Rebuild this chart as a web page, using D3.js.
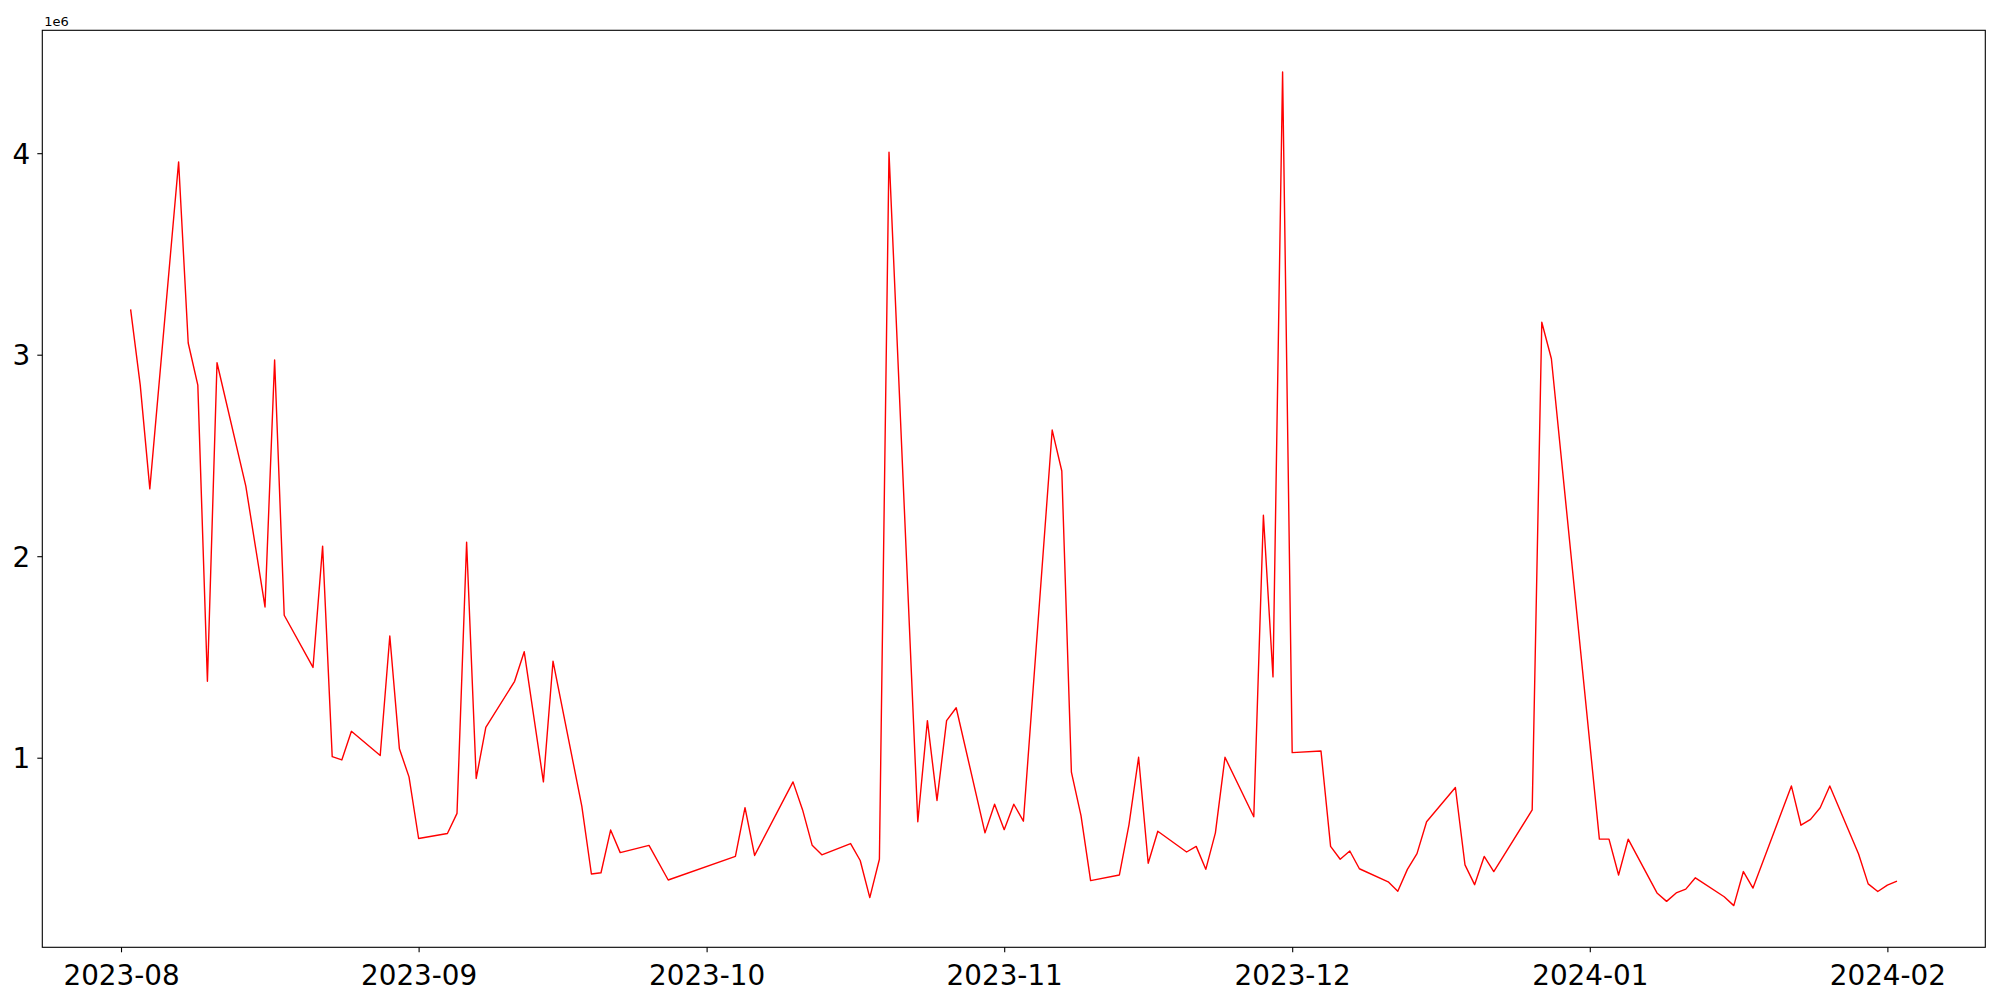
<!DOCTYPE html>
<html>
<head>
<meta charset="utf-8">
<script src="https://cdn.jsdelivr.net/npm/d3@7"></script>
<style>
  body { margin: 0; background: #fff; }
  svg { display: block; font-family: "DejaVu Sans", sans-serif; }
</style>
</head>
<body>
<div id="chart"></div>
<script>
const dates = [
    "2023-08-02", "2023-08-03", "2023-08-04", "2023-08-07", "2023-08-08", "2023-08-09", "2023-08-10", "2023-08-11",
    "2023-08-14", "2023-08-16", "2023-08-17", "2023-08-18", "2023-08-21", "2023-08-22", "2023-08-23", "2023-08-24",
    "2023-08-25", "2023-08-28", "2023-08-29", "2023-08-30", "2023-08-31", "2023-09-01", "2023-09-04", "2023-09-05",
    "2023-09-06", "2023-09-07", "2023-09-08", "2023-09-11", "2023-09-12", "2023-09-14", "2023-09-15", "2023-09-18",
    "2023-09-19", "2023-09-20", "2023-09-21", "2023-09-22", "2023-09-25", "2023-09-27", "2023-10-04", "2023-10-05",
    "2023-10-06", "2023-10-10", "2023-10-11", "2023-10-12", "2023-10-13", "2023-10-16", "2023-10-17", "2023-10-18",
    "2023-10-19", "2023-10-20", "2023-10-23", "2023-10-24", "2023-10-25", "2023-10-26", "2023-10-27", "2023-10-30",
    "2023-10-31", "2023-11-01", "2023-11-02", "2023-11-03", "2023-11-06", "2023-11-07", "2023-11-08", "2023-11-09",
    "2023-11-10", "2023-11-13", "2023-11-14", "2023-11-15", "2023-11-16", "2023-11-17", "2023-11-20", "2023-11-21",
    "2023-11-22", "2023-11-23", "2023-11-24", "2023-11-27", "2023-11-28", "2023-11-29", "2023-11-30", "2023-12-01",
    "2023-12-04", "2023-12-05", "2023-12-06", "2023-12-07", "2023-12-08", "2023-12-11", "2023-12-12", "2023-12-13",
    "2023-12-14", "2023-12-15", "2023-12-18", "2023-12-19", "2023-12-20", "2023-12-21", "2023-12-22", "2023-12-26",
    "2023-12-27", "2023-12-28", "2024-01-02", "2024-01-03", "2024-01-04", "2024-01-05", "2024-01-08", "2024-01-09",
    "2024-01-10", "2024-01-11", "2024-01-12", "2024-01-15", "2024-01-16", "2024-01-17", "2024-01-18", "2024-01-22",
    "2024-01-23", "2024-01-24", "2024-01-25", "2024-01-26", "2024-01-29", "2024-01-30", "2024-01-31", "2024-02-01",
    "2024-02-02"
];

const values = [
    3225000, 2850000, 2334000, 3957000, 3058000, 2849000, 1379000, 2960000,
    2348000, 1748000, 2974000, 1707000, 1448000, 2050000, 1005000, 989000,
    1131000, 1011000, 1604000, 1044000, 905000, 599000, 624000, 724000,
    2069000, 897000, 1150000, 1379000, 1526000, 880000, 1479000, 760000,
    423000, 429000, 641000, 529000, 565000, 393000, 510000, 752000,
    515000, 880000, 741000, 565000, 518000, 574000, 490000, 306000,
    496000, 4005000, 682000, 1184000, 788000, 1184000, 1248000, 627000,
    769000, 643000, 769000, 685000, 2626000, 2423000, 928000, 713000,
    390000, 418000, 668000, 1002000, 476000, 635000, 532000, 560000,
    446000, 627000, 1002000, 707000, 2203000, 1401000, 4403000, 1025000,
    1033000, 560000, 496000, 537000, 449000, 384000, 337000, 446000,
    524000, 682000, 852000, 468000, 370000, 510000, 435000, 741000,
    3161000, 2980000, 596000, 596000, 418000, 596000, 329000, 287000,
    329000, 348000, 404000, 310000, 266000, 435000, 353000, 860000,
    665000, 694000, 752000, 860000, 522000, 374000, 336000, 368000,
    388000
];

const yTicks = [1e6, 2e6, 3e6, 4e6];
const offsetLabel = "1e6";

const width = 1943;
const height = 917;
const margin = { top: 30.3, right: 14.7, bottom: 52.7, left: 42.3 };

const parse = d3.utcParse("%Y-%m-%d");
const data = dates.map((d, i) => ({ date: parse(d), value: values[i] }));

const svg = d3.select("#chart")
    .append("svg")
    .attr("width", width + margin.left + margin.right)
    .attr("height", height + margin.top + margin.bottom)
    .append("g")
    .attr("transform", `translate(${margin.left},${margin.top})`);

// matplotlib-style 5% padding around the data
const [t0, t1] = d3.extent(data, d => d.date);
const tPad = (t1 - t0) * 0.05;
const x = d3.scaleUtc()
    .domain([new Date(+t0 - tPad), new Date(+t1 + tPad)])
    .range([0, width]);

const [v0, v1] = d3.extent(values);
const vPad = (v1 - v0) * 0.05;
const y = d3.scaleLinear()
    .domain([v0 - vPad, v1 + vPad])
    .range([height, 0]);

const line = d3.line()
    .x(d => x(d.date))
    .y(d => y(d.value));

svg.append("path")
    .datum(data)
    .attr("fill", "none")
    .attr("stroke", "#ff0000")
    .attr("stroke-width", 1.4)
    .attr("stroke-linejoin", "round")
    .attr("d", line);

const xAxis = svg.append("g")
    .attr("transform", `translate(0,${height})`)
    .call(d3.axisBottom(x)
        .ticks(d3.utcMonth.every(1))
        .tickFormat(d3.utcFormat("%Y-%m"))
        .tickSize(5)
        .tickPadding(6));

const yAxis = svg.append("g")
    .call(d3.axisLeft(y)
        .tickValues(yTicks)
        .tickFormat(d => d / 1e6)
        .tickSize(5)
        .tickPadding(7));

[xAxis, yAxis].forEach(g => {
    g.select(".domain").remove();
    g.selectAll(".tick line").attr("stroke", "#000").attr("stroke-width", 1.1);
    g.selectAll(".tick text")
        .attr("fill", "#000")
        .style("font-size", "27.8px")
        .style("font-family", "DejaVu Sans");
});
xAxis.selectAll(".tick text").attr("dy", "0.95em");
yAxis.selectAll(".tick text").attr("dy", "0.36em");

svg.append("rect")
    .attr("width", width)
    .attr("height", height)
    .attr("fill", "none")
    .attr("stroke", "#000")
    .attr("stroke-width", 1.1);

svg.append("text")
    .attr("x", 2)
    .attr("y", -4.5)
    .style("font-size", "13px")
    .style("font-family", "DejaVu Sans")
    .text(offsetLabel);
</script>
</body>
</html>
